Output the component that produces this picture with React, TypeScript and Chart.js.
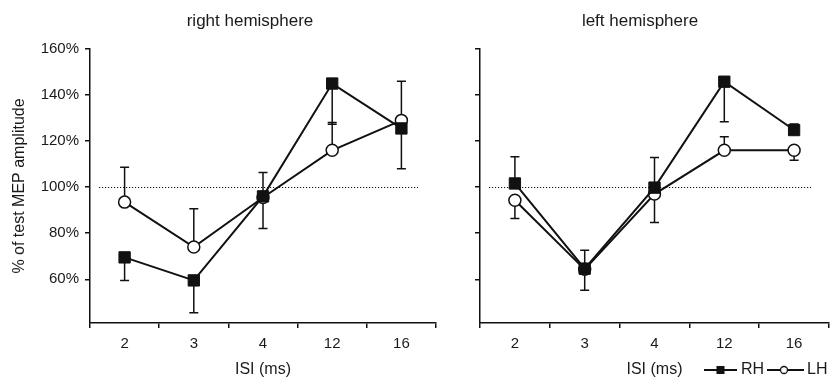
import React, { useEffect, useRef } from "react";
import { Chart, registerables } from "chart.js";

Chart.register(...registerables);

const CATEGORIES = ["2", "3", "4", "12", "16"];
const Y_TICKS = [60, 80, 100, 120, 140, 160];
const Y_MIN = 41;
const Y_MAX = 160;
const REFERENCE_LEVEL = 100;

// Panel 1: right hemisphere
const RIGHT_HEMI_RH = [69.5, 59.5, 96, 145, 125.5];
const RIGHT_HEMI_RH_ERR = [59.5, 45.5, 82, 127.3, 108];
const RIGHT_HEMI_LH = [93.5, 74, 95.5, 116, 129];
const RIGHT_HEMI_LH_ERR = [108.6, 90.6, 106.4, 128.1, 146];

// Panel 2: left hemisphere
const LEFT_HEMI_RH = [101.6, 64.6, 99.8, 145.8, 124.8];
const LEFT_HEMI_RH_ERR = [113.2, 72.6, 112.9, 128.4, 127.4];
const LEFT_HEMI_LH = [94.3, 64.3, 97, 116, 116];
const LEFT_HEMI_LH_ERR = [86.4, 55.2, 84.6, 121.9, 111.7];

const FONT = "'Liberation Sans', Arial, Helvetica, sans-serif";
const INK = "#111";
const TEXT = "#1a1a1a";

type PanelProps = {
  title: string;
  rh: number[];
  rhErr: number[];
  lh: number[];
  lhErr: number[];
  left: number;
  width: number;
  yAxisWidth: number;
  rightPad: number;
  showYLabels: boolean;
  titleX: number;
  yTitle?: string;
  legend?: boolean;
};

function Panel(props: PanelProps) {
  const ref = useRef<HTMLCanvasElement | null>(null);
  useEffect(() => {
    const canvas = ref.current;
    if (!canvas) return;
    const errs = [props.rhErr, props.lhErr];

    const overlay = {
      id: "overlay",
      beforeDatasetsDraw(chart: any) {
        const ctx = chart.ctx;
        const x = chart.scales.x;
        const y = chart.scales.y;
        const ca = chart.chartArea;
        // dotted reference line
        ctx.save();
        ctx.strokeStyle = INK;
        ctx.lineWidth = 1;
        ctx.setLineDash([1.2, 1.8]);
        const yr = Math.round(y.getPixelForValue(REFERENCE_LEVEL)) + 0.5;
        ctx.beginPath();
        ctx.moveTo(ca.left + 9, yr);
        ctx.lineTo(ca.right - 18, yr);
        ctx.stroke();
        ctx.restore();
        // error bars
        ctx.save();
        ctx.strokeStyle = INK;
        ctx.lineWidth = 1.5;
        chart.data.datasets.forEach((ds: any, di: number) => {
          ds.data.forEach((v: number, i: number) => {
            const px = x.getPixelForValue(i);
            const py = y.getPixelForValue(v);
            const pe = y.getPixelForValue(errs[di][i]);
            ctx.beginPath();
            ctx.moveTo(px, py);
            ctx.lineTo(px, pe);
            ctx.moveTo(px - 4.5, pe);
            ctx.lineTo(px + 4.5, pe);
            ctx.stroke();
          });
        });
        ctx.restore();
      },
      afterDraw(chart: any) {
        const ctx = chart.ctx;
        const ca = chart.chartArea;
        ctx.save();
        ctx.fillStyle = TEXT;
        ctx.textAlign = "center";
        ctx.textBaseline = "middle";
        ctx.font = `17px ${FONT}`;
        ctx.fillText(props.title, props.titleX, 21);
        ctx.font = `16px ${FONT}`;
        ctx.fillText("ISI (ms)", (ca.left + ca.right) / 2, 370);
        if (props.yTitle) {
          ctx.save();
          ctx.translate(20, (ca.top + ca.bottom) / 2);
          ctx.rotate(-Math.PI / 2);
          ctx.fillText(props.yTitle, 0, 0);
          ctx.restore();
        }
        if (props.legend) {
          const yL = 370;
          const x0 = ca.right - 125;
          ctx.strokeStyle = INK;
          ctx.lineWidth = 2;
          ctx.beginPath();
          ctx.moveTo(x0, yL);
          ctx.lineTo(x0 + 33, yL);
          ctx.stroke();
          ctx.fillStyle = INK;
          ctx.fillRect(x0 + 12.5, yL - 4, 8, 8);
          ctx.fillStyle = TEXT;
          ctx.textAlign = "left";
          ctx.fillText("RH", x0 + 37, yL);
          const x1 = x0 + 63;
          ctx.beginPath();
          ctx.moveTo(x1, yL);
          ctx.lineTo(x1 + 37, yL);
          ctx.stroke();
          ctx.beginPath();
          ctx.arc(x1 + 17, yL, 3.5, 0, Math.PI * 2);
          ctx.fillStyle = "#fff";
          ctx.fill();
          ctx.lineWidth = 1.3;
          ctx.stroke();
          ctx.fillStyle = TEXT;
          ctx.fillText("LH", x1 + 40, yL);
        }
        ctx.restore();
      },
    };

    const chart = new Chart(canvas, {
      type: "line",
      data: {
        labels: CATEGORIES,
        datasets: [
          {
            label: "RH",
            data: props.rh,
            borderColor: INK,
            borderWidth: 2,
            pointStyle: "rect",
            pointRadius: 8,
            pointBackgroundColor: INK,
            pointBorderColor: INK,
            pointBorderWidth: 1,
            tension: 0,
          },
          {
            label: "LH",
            data: props.lh,
            borderColor: INK,
            borderWidth: 2,
            pointStyle: "circle",
            pointRadius: 6,
            pointBackgroundColor: "#fff",
            pointBorderColor: INK,
            pointBorderWidth: 1.5,
            tension: 0,
          },
        ],
      },
      options: {
        animation: false,
        responsive: false,
        maintainAspectRatio: false,
        layout: { padding: { top: 49, right: props.rightPad, left: 0, bottom: 0 } },
        plugins: {
          legend: { display: false },
          tooltip: { enabled: false },
          title: { display: false },
        },
        scales: {
          x: {
            type: "category",
            offset: true,
            grid: {
              offset: true,
              drawOnChartArea: false,
              drawTicks: true,
              tickLength: 5,
              color: INK,
              lineWidth: 1.5,
            },
            border: { display: true, color: INK, width: 1.5 },
            ticks: { padding: 7, color: TEXT, font: { family: FONT, size: 15 } },
            afterFit: (s: any) => {
              s.height = 58;
            },
          },
          y: {
            type: "linear",
            min: Y_MIN,
            max: Y_MAX,
            afterBuildTicks: (s: any) => {
              s.ticks = Y_TICKS.map((v) => ({ value: v }));
            },
            grid: {
              drawOnChartArea: false,
              drawTicks: true,
              tickLength: 5,
              color: INK,
              lineWidth: 1.5,
            },
            border: { display: true, color: INK, width: 1.5 },
            ticks: {
              display: props.showYLabels,
              padding: 6,
              color: TEXT,
              font: { family: FONT, size: 15 },
              callback: (v: any) => `${v}%`,
            },
            afterFit: (s: any) => {
              s.width = props.yAxisWidth;
            },
          },
        },
      },
      plugins: [overlay],
    } as any);
    return () => chart.destroy();
  }, []);
  return (
    <canvas
      ref={ref}
      width={props.width}
      height={381}
      style={{ position: "absolute", left: props.left, top: 0, width: props.width, height: 381 }}
    />
  );
}

export default function App() {
  return (
    <div style={{ position: "fixed", left: 0, top: 0, width: 838, height: 381, background: "#fff" }}>
      <Panel
        title="right hemisphere"
        rh={RIGHT_HEMI_RH}
        rhErr={RIGHT_HEMI_RH_ERR}
        lh={RIGHT_HEMI_LH}
        lhErr={RIGHT_HEMI_LH_ERR}
        left={0}
        width={445}
        yAxisWidth={90}
        rightPad={5}
        showYLabels={true}
        titleX={250}
        yTitle="% of test MEP amplitude"
      />
      <Panel
        title="left hemisphere"
        rh={LEFT_HEMI_RH}
        rhErr={LEFT_HEMI_RH_ERR}
        lh={LEFT_HEMI_LH}
        lhErr={LEFT_HEMI_LH_ERR}
        left={445}
        width={393}
        yAxisWidth={35}
        rightPad={6}
        showYLabels={false}
        titleX={195}
        legend={true}
      />
    </div>
  );
}
